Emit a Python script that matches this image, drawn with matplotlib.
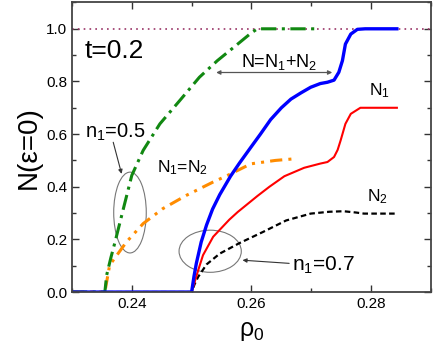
import numpy as np
import matplotlib
matplotlib.use('Agg')
import matplotlib.pyplot as plt
from matplotlib.patches import Ellipse
from matplotlib.ticker import MultipleLocator

plt.rcParams['font.family'] = ['Liberation Sans', 'DejaVu Sans']
plt.rcParams['mathtext.default'] = 'regular'

# n1 = 0.7 : полная плотность N и компоненты N1, N2
x_n = [0.230, 0.2500, 0.2504, 0.2508, 0.2516, 0.2525, 0.2535, 0.2547, 0.2565, 0.2580,
       0.2599, 0.2615, 0.2632, 0.2650, 0.2666, 0.2683, 0.2699, 0.2715, 0.2727, 0.2738,
       0.2746, 0.2752, 0.2757, 0.2766, 0.2777, 0.2790, 0.2843]
y_n = [0.0, 0.0, 0.06, 0.11, 0.19, 0.255, 0.315, 0.37, 0.44, 0.49,
       0.55, 0.60, 0.655, 0.70, 0.733, 0.757, 0.778, 0.792, 0.797, 0.805,
       0.835, 0.879, 0.942, 0.98, 0.998, 1.0, 1.0]

x_n1 = [0.230, 0.2500, 0.2504, 0.2511, 0.2519, 0.2536, 0.2563, 0.2577, 0.2610, 0.2630,
        0.2655, 0.2688, 0.2715, 0.2727, 0.2738, 0.2744, 0.2749, 0.2757, 0.2766, 0.2782, 0.2843]
y_n1 = [0.0, 0.0, 0.03, 0.083, 0.14, 0.21, 0.275, 0.304, 0.365, 0.40,
        0.44, 0.472, 0.488, 0.494, 0.513, 0.54, 0.576, 0.639, 0.677, 0.70, 0.70]

x_n2 = [0.230, 0.2500, 0.2505, 0.2511, 0.2525, 0.2547, 0.2580, 0.2619, 0.2658, 0.2699,
        0.2730, 0.2754, 0.2775, 0.2788, 0.2843]
y_n2 = [0.0, 0.0, 0.03, 0.058, 0.105, 0.146, 0.186, 0.228, 0.272, 0.298,
        0.305, 0.307, 0.302, 0.298, 0.298]

# n1 = 0.5 : N и N1 = N2
x_g = [0.230, 0.2355, 0.2358, 0.2365, 0.2372, 0.2386, 0.2400, 0.2419, 0.2447, 0.2480,
       0.2513, 0.2543, 0.2577, 0.2600, 0.2610, 0.2705]
y_g = [0.0, 0.0, 0.064, 0.13, 0.19, 0.317, 0.443, 0.538, 0.639, 0.727,
       0.816, 0.879, 0.942, 0.985, 1.0, 1.0]

x_o = [0.230, 0.2355, 0.2363, 0.2391, 0.2419, 0.2452, 0.2491, 0.2536, 0.2560, 0.2599,
       0.2640, 0.2671]
y_o = [0.0, 0.0, 0.102, 0.19, 0.26, 0.317, 0.367, 0.418, 0.443, 0.487,
       0.50, 0.506]

fig = plt.figure(figsize=(4.36, 3.54), dpi=100)
ax = fig.add_axes([0.165, 0.175, 0.8235, 0.818])

ax.axhline(1.0, color='#993366', lw=1.2, ls=(0, (1, 2.5)))

ax.plot(x_o, y_o, color='#ff8c00', lw=2.2, ls=(0, (4, 2, 1, 2, 1, 2)))
ax.plot(x_g, y_g, color='#118811', lw=2.2, ls=(0, (5, 1.8, 1, 1.8)))
ax.plot(x_n2, y_n2, color='black', lw=1.6, ls=(0, (2.5, 1.5)))
ax.plot(x_n1, y_n1, color='#ff0000', lw=1.5)
ax.plot(x_n, y_n, color='#0000ff', lw=2.4)

ax.set_xlim(0.23, 0.29)
ax.set_ylim(0, 1.1)
ax.xaxis.set_major_locator(MultipleLocator(0.02))
ax.xaxis.set_minor_locator(MultipleLocator(0.01))
ax.yaxis.set_major_locator(MultipleLocator(0.2))
ax.yaxis.set_minor_locator(MultipleLocator(0.1))
ax.set_xticks([0.24, 0.26, 0.28])
ax.set_xticklabels(['0.24', '0.26', '0.28'])
ax.set_yticks([0.0, 0.2, 0.4, 0.6, 0.8, 1.0])
ax.set_yticklabels(['0.0', '0.2', '0.4', '0.6', '0.8', '1.0'])
ax.tick_params(which='both', direction='in', top=True, right=True, labelsize=11,
               color='#333333', width=1.0)
ax.tick_params(which='major', length=5)
ax.tick_params(which='minor', length=3)
for s in ax.spines.values():
    s.set_color('#444444')
    s.set_linewidth(1.3)

ax.set_ylabel('N(ε=0)', fontsize=20, labelpad=3)
ax.set_xlabel(r'ρ$_0$', fontsize=18, labelpad=6)

# подписи
ax.text(0.2322, 0.917, 't=0.2', fontsize=19, ha='left', va='center')
ax.text(0.2322, 0.588, r'n$_1$=0.5', fontsize=14.5, ha='left', va='baseline')
ax.text(0.2442, 0.456, r'N$_1$=N$_2$', fontsize=12.5, ha='left', va='baseline')
ax.text(0.2583, 0.856, r'N=N$_1$+N$_2$', fontsize=13, ha='left', va='baseline')
ax.text(0.2796, 0.746, r'N$_1$', fontsize=12.5, ha='left', va='baseline')
ax.text(0.2793, 0.345, r'N$_2$', fontsize=12.5, ha='left', va='baseline')
ax.text(0.2668, 0.083, r'n$_1$=0.7', fontsize=15, ha='left', va='baseline')

ax.annotate('', xy=(0.2735, 0.834), xytext=(0.2541, 0.834),
            arrowprops=dict(arrowstyle='<|-|>', color='#555555', lw=0.9,
                            mutation_scale=6, shrinkA=0, shrinkB=0))
ax.annotate('', xy=(0.2383, 0.449), xytext=(0.2369, 0.569),
            arrowprops=dict(arrowstyle='-|>', color='#333333', lw=0.8,
                            mutation_scale=6, shrinkA=0, shrinkB=0))
ax.annotate('', xy=(0.2585, 0.121), xytext=(0.2663, 0.109),
            arrowprops=dict(arrowstyle='-|>', color='#333333', lw=0.8,
                            mutation_scale=6, shrinkA=0, shrinkB=0))

ax.add_patch(Ellipse((0.2397, 0.302), 0.00544, 0.307, fill=False,
                     edgecolor='#777777', lw=0.8))
ax.add_patch(Ellipse((0.2531, 0.155), 0.0104, 0.160, fill=False,
                     edgecolor='#777777', lw=0.8))

fig.savefig('out.png', dpi=100)
